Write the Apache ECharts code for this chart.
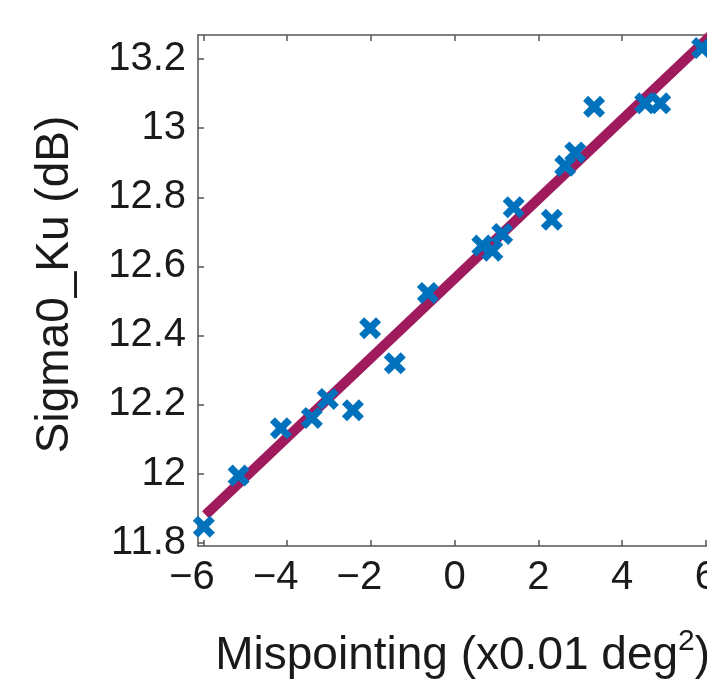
<!DOCTYPE html>
<html>
<head>
<meta charset="utf-8">
<script src="https://cdn.jsdelivr.net/npm/echarts@6/dist/echarts.min.js"></script>
<style>
  html, body { margin: 0; padding: 0; background: #ffffff; overflow: hidden; }
  #wrap { width: 707px; height: 684px; overflow: hidden; position: relative; }
  #chart { width: 720px; height: 684px; position: absolute; left: 0; top: 0; }
</style>
</head>
<body>
<div id="wrap"><div id="chart"></div></div>
<script>
// Scatter observations (mispointing x0.01 deg^2, Sigma0_Ku dB)
const mispointing = [-5.99, -5.16, -4.15, -3.41, -3.03, -2.43, -2.02, -1.43, -0.64, 0.66, 0.90, 1.135, 1.41, 2.32, 2.64, 2.88, 3.33, 4.55, 4.91, 5.91];
const sigma0 = [11.846, 11.994, 12.131, 12.161, 12.216, 12.183, 12.421, 12.319, 12.523, 12.66, 12.645, 12.694, 12.771, 12.735, 12.891, 12.930, 13.062, 13.072, 13.072, 13.232];

// Fitted line end points
const fitX = [-5.95, 6.13];
const fitY = [11.88, 13.27];

// Tick values
const xTicks = [-6, -4, -2, 0, 2, 4, 6];
const yTicks = [11.8, 12, 12.2, 12.4, 12.6, 12.8, 13, 13.2];

const xName = 'Mispointing (x0.01 deg';
const yName = 'Sigma0_Ku (dB)';

const FONT = 'Liberation Sans';
const AXIS_COLOR = '#555555';

const scatterData = mispointing.map((x, i) => [x, sigma0[i]]);
const fitData = fitX.map((x, i) => [x, fitY[i]]);

const xMarker = 'path://M0,4.6 L4.6,0 L10,5.4 L15.4,0 L20,4.6 L14.6,10 L20,15.4 L15.4,20 L10,14.6 L4.6,20 L0,15.4 L5.4,10 Z';

const chart = echarts.init(document.getElementById('chart'), null, { renderer: 'canvas', width: 720, height: 684 });

const tickStyle = { color: AXIS_COLOR, width: 1.5 };

chart.setOption({
  animation: false,
  backgroundColor: '#ffffff',
  grid: { left: 198, right: 7, top: 35, bottom: 137, containLabel: false },
  xAxis: [
    {
      type: 'value', position: 'bottom', min: -6.13, max: 6.13,
      axisLine: { show: true, onZero: false, lineStyle: { color: AXIS_COLOR, width: 1.5 } },
      axisTick: { show: true, inside: true, length: 6, customValues: xTicks, lineStyle: tickStyle },
      axisLabel: {
        show: true, customValues: xTicks, margin: 12,
        fontFamily: FONT, fontSize: 40, color: '#1a1a1a',
        formatter: function (v) {
          if (v < 0) return '{n|\u2212' + Math.abs(v) + '}';
          return '{p|' + v + '}';
        },
        rich: {
          n: { fontFamily: FONT, fontSize: 40, color: '#1a1a1a', padding: [0, 23, 0, 0] },
          p: { fontFamily: FONT, fontSize: 40, color: '#1a1a1a' }
        }
      },
      splitLine: { show: false },
      name: '{a|' + xName + '}{s|2}{a|)}',
      nameLocation: 'middle', nameGap: 81,
      nameTextStyle: {
        fontFamily: FONT, fontSize: 46, color: '#1a1a1a',
        padding: [0, 0, 0, 16],
        rich: {
          a: { fontFamily: FONT, fontSize: 46, color: '#1a1a1a', lineHeight: 52, verticalAlign: 'bottom' },
          s: { fontFamily: FONT, fontSize: 30, color: '#1a1a1a', lineHeight: 30, verticalAlign: 'top' }
        }
      }
    },
    {
      type: 'value', position: 'top', min: -6.13, max: 6.13,
      axisLine: { show: true, onZero: false, lineStyle: { color: AXIS_COLOR, width: 1.5 } },
      axisTick: { show: true, inside: true, length: 6, customValues: xTicks, lineStyle: tickStyle },
      axisLabel: { show: false },
      splitLine: { show: false }
    }
  ],
  yAxis: [
    {
      type: 'value', position: 'left', min: 11.79, max: 13.27,
      axisLine: { show: true, onZero: false, lineStyle: { color: AXIS_COLOR, width: 1.5 } },
      axisTick: { show: true, inside: true, length: 6, customValues: yTicks, lineStyle: tickStyle },
      axisLabel: {
        show: true, customValues: yTicks, margin: 12,
        fontFamily: FONT, fontSize: 40, color: '#1a1a1a',
        formatter: function (v) { return String(v); }
      },
      splitLine: { show: false },
      name: yName, nameLocation: 'middle', nameGap: 120,
      nameTextStyle: { fontFamily: FONT, fontSize: 46, color: '#1a1a1a', padding: [0, 0, 0, 12] }
    }
  ],
  series: [
    {
      type: 'line', data: fitData, xAxisIndex: 0, yAxisIndex: 0,
      showSymbol: false, symbol: 'none', silent: true, z: 2,
      lineStyle: { color: '#A01A5E', width: 10, cap: 'butt' }
    },
    {
      type: 'scatter', data: scatterData, xAxisIndex: 0, yAxisIndex: 0,
      symbol: xMarker, symbolSize: 22, z: 3,
      itemStyle: { color: '#0072BD', opacity: 1 }
    }
  ]
});
</script>
</body>
</html>
